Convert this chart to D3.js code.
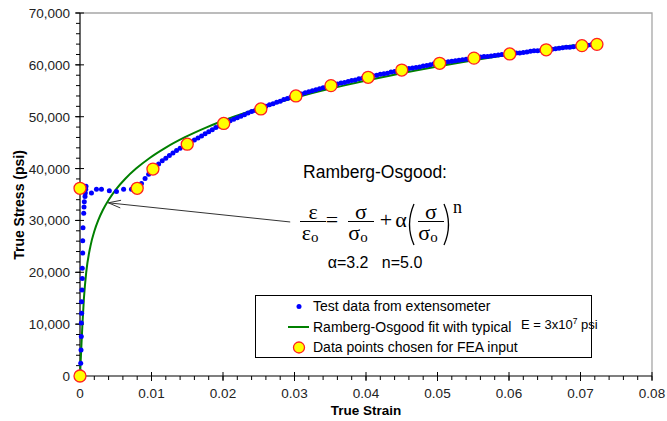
<!DOCTYPE html>
<html><head><meta charset="utf-8">
<script src="https://cdn.jsdelivr.net/npm/d3@7"></script>
<style>body{margin:0;background:#fff}svg{display:block}</style>
</head><body><svg id="c" width="667" height="421" font-family='"Liberation Sans",Arial,sans-serif'></svg>
<script>
// ---- data (strain, stress psi) ----
const testElastic = [[0.00005,800],[0.0001,2450],[0.00014,5000],[0.00018,7600],[0.00019,10200],[0.00023,12100],[0.00023,14300],[0.00028,16600],[0.00032,18800],[0.00032,20800],[0.00038,23700],[0.00038,26100],[0.00042,28600],[0.00052,31400],[0.00056,32600],[0.0006,33600],[0.0007,34600],[0.00074,35300],[0.0008,36000],[0.00084,36600]];
const testPlateau = [[0.0016,35300],[0.0023,36000],[0.003,36000],[0.0041,35700],[0.0051,35600],[0.0061,36000],[0.0072,36000],[0.008,36200],[0.0086,37100],[0.0091,38100],[0.0096,38900]];
const testHardening = [[0.0100,39600],[0.0105,40300],[0.0110,40900],[0.0115,41500],[0.0120,42000],[0.0125,42500],[0.0130,43000],[0.0135,43500],[0.0140,43900],[0.0145,44300],[0.0150,44700],
[0.0155,45100],[0.0160,45500],[0.0165,45900],[0.0170,46300],[0.0175,46700],[0.0180,47100],[0.0185,47500],[0.0190,47900],[0.0195,48200],[0.0200,48600],
[0.0205,48900],[0.0210,49200],[0.0215,49500],[0.0220,49800],[0.0225,50100],[0.0230,50400],[0.0235,50700],[0.0240,51000],[0.0245,51200],[0.0250,51500],
[0.0255,51800],[0.0260,52000],[0.0265,52300],[0.0270,52500],[0.0275,52800],[0.0280,53000],[0.0285,53300],[0.0290,53500],[0.0295,53800],[0.0300,54000],
[0.0305,54200],[0.0310,54400],[0.0315,54600],[0.0320,54800],[0.0325,55000],[0.0330,55200],[0.0335,55400],[0.0340,55600],[0.0345,55800],[0.0350,56000],
[0.0355,56200],[0.0360,56300],[0.0365,56500],[0.0370,56600],[0.0375,56800],[0.0380,57000],[0.0385,57100],[0.0390,57300],[0.0395,57400],[0.0400,57600],
[0.0405,57700],[0.0410,57900],[0.0415,58000],[0.0420,58200],[0.0425,58300],[0.0430,58400],[0.0435,58600],[0.0440,58700],[0.0445,58900],[0.0450,59000],
[0.0455,59100],[0.0460,59300],[0.0465,59400],[0.0470,59500],[0.0475,59600],[0.0480,59800],[0.0485,59900],[0.0490,60000],[0.0495,60200],[0.0500,60300],
[0.0505,60400],[0.0510,60500],[0.0515,60600],[0.0520,60700],[0.0525,60800],[0.0530,60900],[0.0535,61000],[0.0540,61100],[0.0545,61200],[0.0550,61300],
[0.0555,61400],[0.0560,61500],[0.0565,61600],[0.0570,61600],[0.0575,61700],[0.0580,61800],[0.0585,61900],[0.0590,62000],[0.0595,62000],[0.0600,62100],
[0.0605,62200],[0.0610,62300],[0.0615,62300],[0.0620,62400],[0.0625,62500],[0.0630,62600],[0.0635,62700],[0.0640,62700],[0.0645,62800],[0.0650,62900],
[0.0655,63000],[0.0660,63000],[0.0665,63100],[0.0670,63200],[0.0675,63300],[0.0680,63400],[0.0685,63400],[0.0690,63500],[0.0695,63600],[0.0700,63700],
[0.0705,63800],[0.0710,63800],[0.0715,63900],[0.0720,63900]];
const fitCurve = [[0,0],[0.000167,5000],[0.00034,10000],[0.000548,15000],[0.00087,20000],[0.001453,25000],[0.002026,28000],[0.002543,30000],[0.003198,32000],[0.004018,34000],[0.00504,36000],[0.0063,38000],[0.00784,40000],[0.0097,42000],[0.01194,44000],[0.01461,46000],[0.01778,48000],[0.02151,50000],[0.02588,52000],[0.03096,54000],[0.03684,56000],[0.04362,58000],[0.05138,60000],[0.06024,62000],[0.06513,63000],[0.0692,63800]];
const feaPoints = [[0,0],[0,36200],[0.008,36200],[0.0102,39900],[0.015,44700],[0.0201,48700],[0.0253,51500],[0.0302,54000],[0.0351,56000],[0.0403,57600],[0.045,59000],[0.0503,60300],[0.0551,61300],[0.0601,62100],[0.0652,62900],[0.0702,63700],[0.0723,63950]];
const xTicks = [0,0.01,0.02,0.03,0.04,0.05,0.06,0.07,0.08];
const xTickLabels = ["0","0.01","0.02","0.03","0.04","0.05","0.06","0.07","0.08"];
const yTicks = [0,10000,20000,30000,40000,50000,60000,70000];
const legendLabels = ["Test data from extensometer","Ramberg-Osgood fit with typical","Data points chosen for FEA input"];

const svg = d3.select("#c");
const x = d3.scaleLinear().domain([0,0.08]).range([80,652]);
const y = d3.scaleLinear().domain([0,70000]).range([376,13]);

// frame (top & right gray)
svg.append("path").attr("d",`M80,13H652V376`).attr("fill","none").attr("stroke","#a6a6a6").attr("stroke-width",1.3);

// axes
const xMinor = d3.range(0,0.0801,0.002);
const yMinor = d3.range(0,70001,2000);
const gx = svg.append("g").attr("transform","translate(0,376)");
gx.selectAll("line.mi").data(xMinor).join("line").attr("x1",d=>x(d)).attr("x2",d=>x(d)).attr("y1",0).attr("y2",4).attr("stroke","#000");
gx.selectAll("line.ma").data(xTicks).join("line").attr("x1",d=>x(d)).attr("x2",d=>x(d)).attr("y1",-4).attr("y2",5).attr("stroke","#000");
gx.append("line").attr("x1",80).attr("x2",652).attr("stroke","#000").attr("stroke-width",1.2);
gx.selectAll("text").data(xTicks).join("text").attr("x",d=>x(d)).attr("y",22).attr("text-anchor","middle").attr("font-size",13.5).attr("fill","#222").text((d,i)=>xTickLabels[i]);

const gy = svg.append("g").attr("transform","translate(80,0)");
gy.selectAll("line.mi").data(yMinor).join("line").attr("y1",d=>y(d)).attr("y2",d=>y(d)).attr("x1",-4).attr("x2",0).attr("stroke","#000");
gy.selectAll("line.ma").data(yTicks).join("line").attr("y1",d=>y(d)).attr("y2",d=>y(d)).attr("x1",-5).attr("x2",4).attr("stroke","#000");
gy.append("line").attr("y1",13).attr("y2",376).attr("stroke","#000").attr("stroke-width",1.2);
gy.selectAll("text").data(yTicks).join("text").attr("x",-10).attr("y",d=>y(d)+5).attr("text-anchor","end").attr("font-size",13.5).attr("fill","#222").text(d=>d3.format(",")(d));

// axis titles
svg.append("text").attr("x",366).attr("y",415).attr("text-anchor","middle").attr("font-weight","bold").attr("font-size",13.5).text("True Strain");
svg.append("text").attr("transform","translate(24,205) rotate(-90)").attr("text-anchor","middle").attr("font-weight","bold").attr("font-size",14).text("True Stress (psi)");

// fit curve
const line = d3.line().x(d=>x(d[0])).y(d=>y(d[1])).curve(d3.curveMonotoneX);
svg.append("path").datum(fitCurve).attr("d",line).attr("fill","none").attr("stroke","#008000").attr("stroke-width",2);

// test data
const testAll = testElastic.concat(testPlateau, testHardening);
svg.append("g").selectAll("circle").data(testAll).join("circle").attr("cx",d=>x(d[0])).attr("cy",d=>y(d[1])).attr("r",2.5).attr("fill","#0000ff");

// FEA points
svg.append("g").selectAll("circle").data(feaPoints).join("circle").attr("cx",d=>x(d[0])).attr("cy",d=>y(d[1])).attr("r",6).attr("fill","#ffff00").attr("stroke","#ff2020").attr("stroke-width",1.3);

// arrow
const tip=[x(0.00396),y(33400)], tail=[x(0.0294),y(29700)];
const ang=Math.atan2(tail[1]-tip[1],tail[0]-tip[0]);
const ah=13, aw=0.3;
svg.append("line").attr("x1",tail[0]).attr("y1",tail[1]).attr("x2",tip[0]).attr("y2",tip[1]).attr("stroke","#333").attr("stroke-width",1);
svg.append("path").attr("d",`M${tip[0]+ah*Math.cos(ang+aw)},${tip[1]+ah*Math.sin(ang+aw)}L${tip[0]},${tip[1]}L${tip[0]+ah*Math.cos(ang-aw)},${tip[1]+ah*Math.sin(ang-aw)}`).attr("fill","none").attr("stroke","#333").attr("stroke-width",1);

// equation
const serif = '"Liberation Serif","Times New Roman",serif';
const eq = svg.append("g");
eq.append("text").attr("x",375).attr("y",178).attr("text-anchor","middle").attr("font-size",17.5).text("Ramberg-Osgood:");
const eqs = eq.append("g").attr("font-family",serif);
function frac(cx, sym){
  eqs.append("text").attr("x",cx).attr("y",219).attr("text-anchor","middle").attr("font-size",22).text(sym);
  eqs.append("line").attr("x1",cx-13).attr("x2",cx+13).attr("y1",221.5).attr("y2",221.5).attr("stroke","#000").attr("stroke-width",1);
  const t = eqs.append("text").attr("x",cx-3).attr("y",240).attr("text-anchor","middle").attr("font-size",22);
  t.append("tspan").text(sym);
  t.append("tspan").attr("font-size",15).attr("dy",2).text("o");
}
frac(313,"ε");
eqs.append("text").attr("x",332).attr("y",227).attr("text-anchor","middle").attr("font-size",22).text("=");
frac(361,"σ");
eqs.append("text").attr("x",386).attr("y",227).attr("text-anchor","middle").attr("font-size",22).text("+");
eqs.append("text").attr("x",401).attr("y",227).attr("text-anchor","middle").attr("font-size",22).text("α");
// tall thin parentheses
eqs.append("path").attr("d","M414,204 Q405,224.5 414,245").attr("fill","none").attr("stroke","#000").attr("stroke-width",1.3);
frac(431,"σ");
eqs.append("path").attr("d","M444,204 Q453,224.5 444,245").attr("fill","none").attr("stroke","#000").attr("stroke-width",1.3);
eqs.append("text").attr("x",453).attr("y",213).attr("font-size",18).text("n");
eq.append("text").attr("x",375).attr("y",268).attr("text-anchor","middle").attr("font-size",16).attr("xml:space","preserve").text("α=3.2   n=5.0");

// legend
const lg = svg.append("g");
lg.append("rect").attr("x",255.5).attr("y",295.5).attr("width",336).attr("height",62).attr("fill","#fff").attr("stroke","#000").attr("stroke-width",1);
lg.append("circle").attr("cx",299).attr("cy",306.5).attr("r",2.5).attr("fill","#0000ff");
lg.append("line").attr("x1",288).attr("x2",309).attr("y1",327).attr("y2",327).attr("stroke","#008000").attr("stroke-width",2);
lg.append("circle").attr("cx",299).attr("cy",347.5).attr("r",5.5).attr("fill","#ffff00").attr("stroke","#ff2020").attr("stroke-width",1.3);
legendLabels.forEach((t,i)=>lg.append("text").attr("x",313).attr("y",311+i*20.5).attr("font-size",14).text(t));
const et = lg.append("text").attr("x",521).attr("y",329).attr("font-size",13).attr("xml:space","preserve");
et.append("tspan").text("E = 3x10");
et.append("tspan").attr("font-size",8.5).attr("dy",-5).text("7");
et.append("tspan").attr("dy",5).text(" psi");
</script></body></html>
